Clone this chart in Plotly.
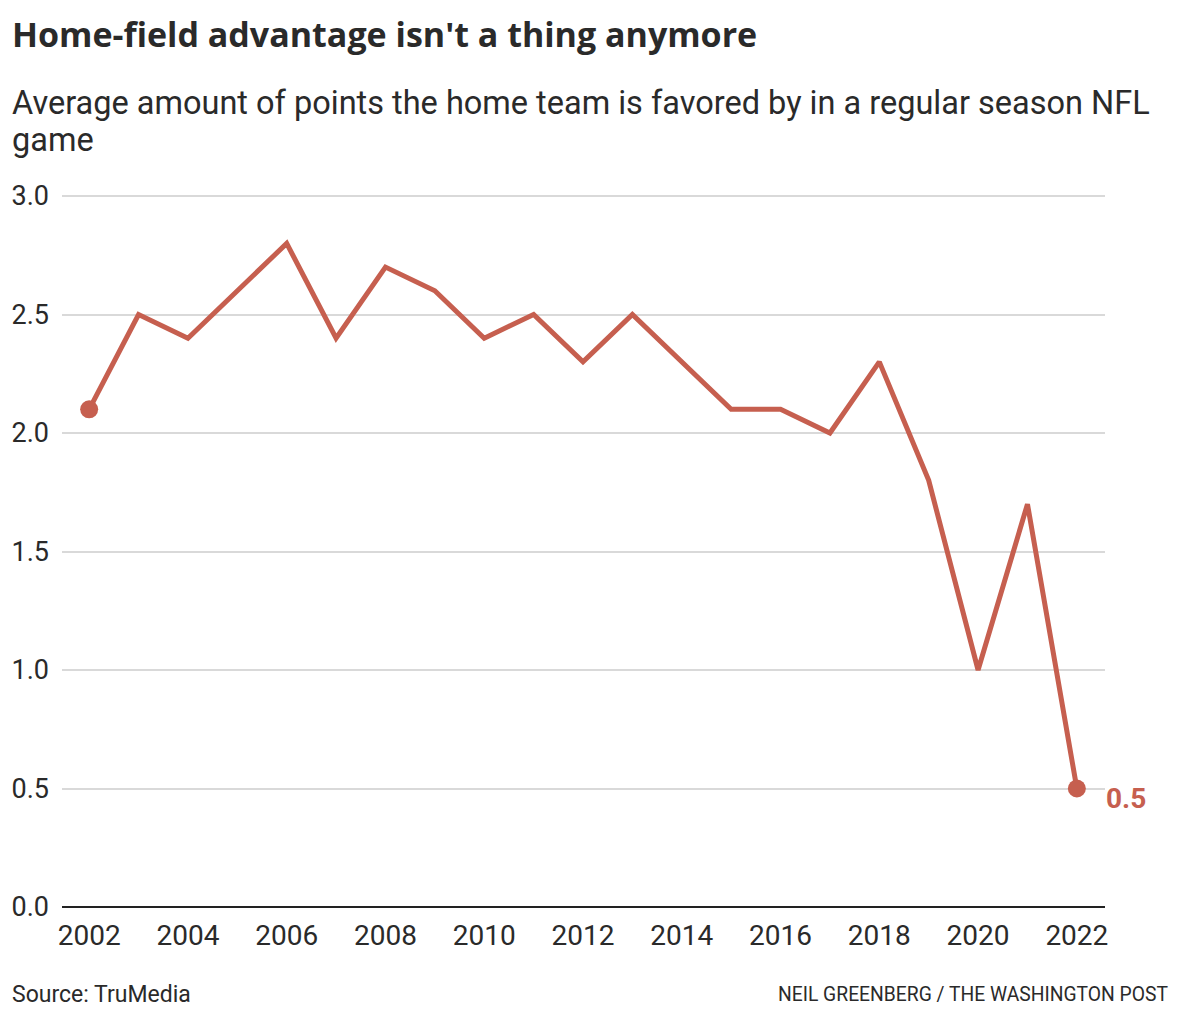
import plotly.graph_objects as go

years = list(range(2002, 2023))
points = [2.1, 2.5, 2.4, 2.6, 2.8, 2.4, 2.7, 2.6, 2.4, 2.5, 2.3, 2.5, 2.3, 2.1, 2.1, 2.0, 2.3, 1.8, 1.0, 1.7, 0.5]
x_ticks = list(range(2002, 2023, 2))
y_ticks = [0.0, 0.5, 1.0, 1.5, 2.0, 2.5, 3.0]

COLOR = "#c65f4f"
TEXT = "#2a2a2a"
FONT = "Roboto"
OFF = 8  # page body margin
W, H = 1180 - OFF, 1020 - OFF
L, R, T, B = 62 - OFF, 75, 191 - OFF, 113
PW = W - L - R
PH = H - T - B
Y_TOP = 3.0 + 5 / 237.0


def px(x):
    return (x - OFF - L) / PW


def py(y):
    return (H - B - (y - OFF)) / PH


fig = go.Figure()
fig.add_trace(go.Scatter(x=years, y=points, mode="lines",
                         line=dict(color=COLOR, width=5), hoverinfo="skip"))
fig.add_trace(go.Scatter(x=[years[0], years[-1]], y=[points[0], points[-1]], mode="markers",
                         marker=dict(color=COLOR, size=18), hoverinfo="skip"))

fig.add_annotation(x=years[-1], y=points[-1], xref="x", yref="y", text="<b>%.1f</b>" % points[-1],
                   showarrow=False, xanchor="left", yanchor="middle", xshift=27, yshift=-10,
                   font=dict(family=FONT, size=28, color=COLOR))

fig.add_annotation(x=px(10), y=py(34), xref="paper", yref="paper",
                   text="<b>Home-field advantage isn't a thing anymore</b>", showarrow=False,
                   xanchor="left", yanchor="middle", font=dict(family="Open Sans", size=34, color=TEXT))
fig.add_annotation(x=px(10), y=py(103), xref="paper", yref="paper",
                   text="Average amount of points the home team is favored by in a regular season NFL",
                   showarrow=False, xanchor="left", yanchor="middle",
                   font=dict(family=FONT, size=32.5, color=TEXT))
fig.add_annotation(x=px(10), y=py(140), xref="paper", yref="paper", text="game",
                   showarrow=False, xanchor="left", yanchor="middle",
                   font=dict(family=FONT, size=32.5, color=TEXT))
fig.add_annotation(x=px(10), y=py(994), xref="paper", yref="paper", text="Source: TruMedia",
                   showarrow=False, xanchor="left", yanchor="middle",
                   font=dict(family=FONT, size=23, color=TEXT))
fig.add_annotation(x=px(1170), y=py(994), xref="paper", yref="paper",
                   text="NEIL GREENBERG / THE WASHINGTON POST",
                   showarrow=False, xanchor="right", yanchor="middle",
                   font=dict(family=FONT, size=19.3, color=TEXT))

fig.update_layout(
    width=W, height=H,
    margin=dict(l=L, r=R, t=T, b=B, pad=0),
    paper_bgcolor="white", plot_bgcolor="white",
    showlegend=False,
    font=dict(family=FONT, color=TEXT),
)
fig.update_xaxes(range=[2001.45, 2022.57], tickvals=x_ticks, ticktext=[str(v) for v in x_ticks],
                 showgrid=False, zeroline=False, showline=False, ticks="", automargin=False,
                 ticklabelstandoff=9,
                 tickfont=dict(family=FONT, size=28, color=TEXT))
fig.update_yaxes(range=[0, Y_TOP], tickvals=y_ticks, ticktext=["%.1f" % v for v in y_ticks],
                 showgrid=True, gridcolor="#d9d9d9", gridwidth=2,
                 zeroline=True, zerolinecolor="#222222", zerolinewidth=2,
                 showline=False, ticks="", ticklabelstandoff=12, automargin=False,
                 tickfont=dict(family=FONT, size=27, color=TEXT))

fig.write_html("out.html")
